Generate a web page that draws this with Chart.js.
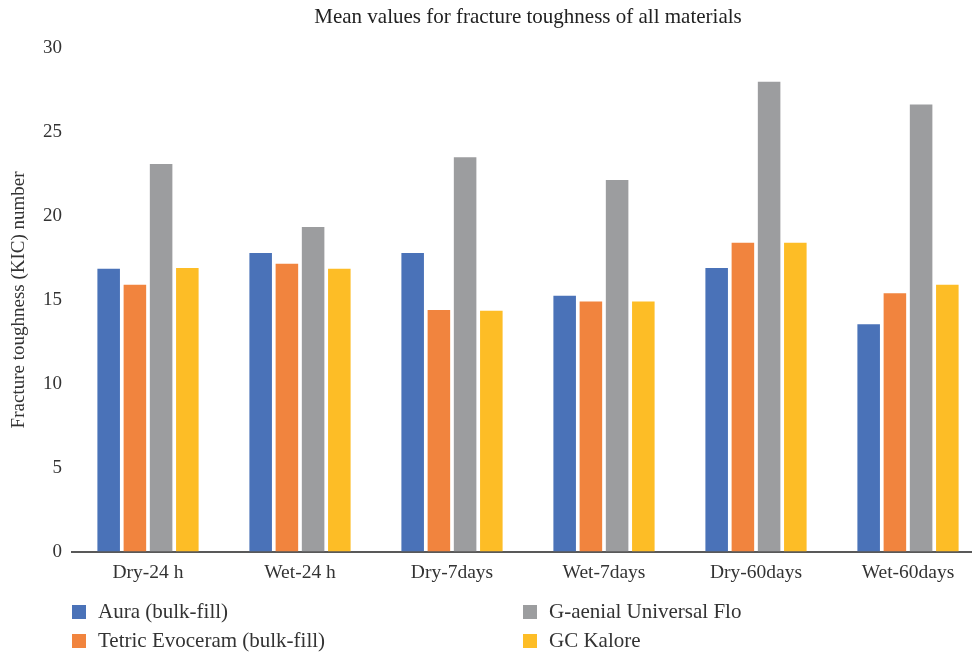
<!DOCTYPE html>
<html>
<head>
<meta charset="utf-8">
<script src="https://cdn.jsdelivr.net/npm/chart.js@4"></script>
<style>
  html, body { margin: 0; padding: 0; background: #fff; overflow: hidden; }
  #wrap { position: relative; width: 972px; height: 652px; overflow: hidden; }
  #legend { position: absolute; left: 72px; top: 599px; width: 900px;
    font-family: "Liberation Serif", serif; font-size: 21px; color: #333; }
  .item { position: absolute; display: flex; align-items: center; white-space: nowrap; }
  .box { width: 14px; height: 14px; margin-right: 12px; }
</style>
</head>
<body>
<div id="wrap">
  <canvas id="chart" width="984" height="652"></canvas>
  <div id="legend"></div>
</div>
<script>
const categories = ['Dry-24 h', 'Wet-24 h', 'Dry-7days', 'Wet-7days', 'Dry-60days', 'Wet-60days'];
const seriesNames = ['Aura (bulk-fill)', 'Tetric Evoceram (bulk-fill)', 'G-aenial Universal Flo', 'GC Kalore'];
const auraValues = [16.85, 17.8, 17.8, 15.25, 16.9, 13.55];
const tetricValues = [15.9, 17.15, 14.4, 14.9, 18.4, 15.4];
const gaenialValues = [23.1, 19.35, 23.5, 22.15, 28.0, 26.65];
const kaloreValues = [16.9, 16.85, 14.35, 14.9, 18.4, 15.9];
const colors = ['#4A72B8', '#F1843E', '#9C9D9F', '#FDBD26'];

const serif = '"Liberation Serif", "Times New Roman", serif';
const allValues = [auraValues, tetricValues, gaenialValues, kaloreValues];

let datasets = seriesNames.map((name, i) => ({
  label: name,
  data: allValues[i],
  backgroundColor: colors[i],
  borderWidth: 0,
  categoryPercentage: 0.69,
  barPercentage: 0.86
}));

let ctx = document.getElementById('chart').getContext('2d');
new Chart(ctx, {
  type: 'bar',
  data: { labels: categories, datasets: datasets },
  options: {
    responsive: false,
    animation: false,
    layout: { padding: { top: 0, right: 0, bottom: 57, left: 0 } },
    plugins: {
      legend: { display: false },
      tooltip: { enabled: false },
      title: {
        display: true,
        fullSize: false, // centre the title over the plot area, not the canvas
        text: 'Mean values for fracture toughness of all materials',
        color: '#222',
        font: { family: serif, size: 21, weight: 'normal' },
        padding: { top: 5, bottom: 18 }
      }
    },
    scales: {
      x: {
        grid: { display: false, drawTicks: false },
        border: { display: true, color: '#595959', width: 2 },
        ticks: { color: '#333', font: { family: serif, size: 19.5 }, padding: 10 }
      },
      y: {
        min: 0,
        max: 30,
        grid: { display: false, drawTicks: false },
        border: { display: false },
        ticks: { stepSize: 5, color: '#333', font: { family: serif, size: 19 }, padding: 10 },
        title: {
          display: true,
          text: 'Fracture toughness (KIC) number',
          color: '#333',
          font: { family: serif, size: 19 },
          padding: { top: 8, bottom: 0 }
        },
        afterFit: (scale) => { scale.width = 72; }
      }
    }
  }
});

// legend in two columns like the original
let legend = document.getElementById('legend');
const legendOrder = [0, 2, 1, 3];
legendOrder.forEach((idx, k) => {
  let col = k % 2, row = Math.floor(k / 2);
  let item = document.createElement('div');
  item.className = 'item';
  item.style.left = (col * 451) + 'px';
  item.style.top = (row * 29) + 'px';
  item.innerHTML = '<div class="box" style="background:' + colors[idx] + '"></div>' + seriesNames[idx];
  legend.appendChild(item);
});
</script>
</body>
</html>
